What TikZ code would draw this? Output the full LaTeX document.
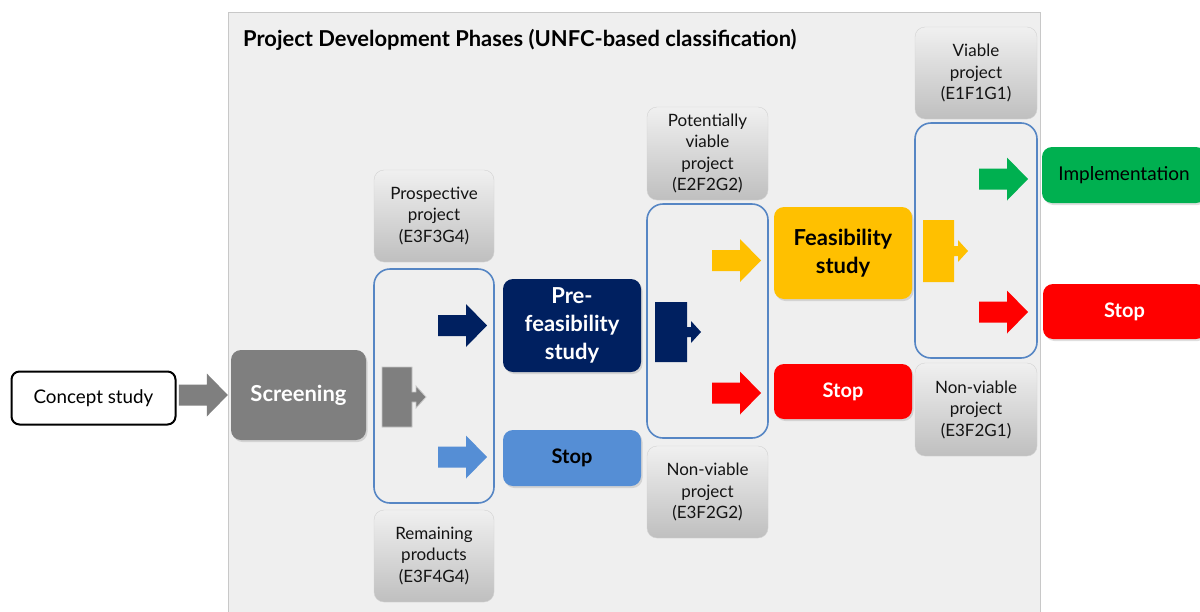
\documentclass[tikz,border=0pt]{standalone}
\usepackage{fontspec}
\setmainfont{Lato}
\usetikzlibrary{calc,shadows}
\definecolor{panelfill}{HTML}{EFEFEF}
\definecolor{panelline}{HTML}{C8C8C8}
\definecolor{outl}{HTML}{5686C4}
\definecolor{scr}{HTML}{7F7F7F}
\definecolor{navy}{HTML}{002060}
\definecolor{lblue}{HTML}{558ED5}
\definecolor{yel}{HTML}{FFC000}
\definecolor{rd}{HTML}{FF0000}
\definecolor{grn}{HTML}{00B050}
\definecolor{labtop}{HTML}{F0F0F0}
\definecolor{labbot}{HTML}{BFBFBF}
\newcommand\BArrow[2]{% #1 colour, #2 tip coordinate
  \fill[#1] let \p1=(#2) in
    (\x1-49pt,\y1-10.5pt) -- (\x1-21pt,\y1-10.5pt) -- (\x1-21pt,\y1-21.5pt) -- (\x1,\y1)
    -- (\x1-21pt,\y1+21.5pt) -- (\x1-21pt,\y1+10.5pt) -- (\x1-49pt,\y1+10.5pt) -- cycle;}
\newcommand\TBlock[6]{% colour, x1, y1, x2, y2, extra
  \fill[#1,#6] (#2,#3) -- (#4,#3) -- (#4,{(#3+#5)/2-5}) -- (#4+4,{(#3+#5)/2-5}) -- (#4+4,{(#3+#5)/2-11})
    -- (#4+14,{(#3+#5)/2}) -- (#4+4,{(#3+#5)/2+11}) -- (#4+4,{(#3+#5)/2+5}) -- (#4,{(#3+#5)/2+5})
    -- (#4,#5) -- (#2,#5) -- cycle;}
\tikzset{
  lab/.style={rounded corners=10pt, top color=labtop, bottom color=labbot, draw=gray!35,
    minimum width=120pt, minimum height=92pt, align=center, inner sep=0pt,
    font=\fontsize{17}{21.5}\selectfont, text=black!92},
  outbox/.style={draw=outl, line width=1.6pt, rounded corners=16pt, minimum width=120pt, minimum height=234pt},
  phase/.style={rounded corners=10pt, minimum width=138pt, align=center, inner sep=0pt,
    drop shadow={opacity=0.25, shadow xshift=1.5pt, shadow yshift=-2pt},
    font=\bfseries\fontsize{22}{27}\selectfont},
  stopfont/.style={font=\bfseries\fontsize{20}{24}\selectfont},
}
\begin{document}
\begin{tikzpicture}[x=1pt,y=-1pt]
\useasboundingbox (0,0) rectangle (1200,611);
\fill[white] (0,0) rectangle (1200,611);
% panel
\filldraw[fill=panelfill, draw=panelline, line width=1pt] (228,12) rectangle (1040,640);
\node[anchor=west, font=\bfseries\fontsize{21.9}{25}\selectfont, inner sep=0pt] (title) at (243,40)
  {Project Development Phases (UNFC-based classification)};
% concept
\node[draw=black, line width=2pt, rounded corners=8pt, fill=white, minimum width=164pt, minimum height=53pt,
  font=\fontsize{18.8}{22}\selectfont, inner sep=0pt] (concept) at (93.5,398) {Concept study};
\node[phase, fill=scr, text=white, minimum width=135pt, minimum height=90pt] (screen) at (298.5,395) {Screening};
% box 1
\node[lab] (prosp) at (434,216) {Prospective\\project\\(E3F3G4)};
\node[lab] (remain) at (434,556) {Remaining\\products\\(E3F4G4)};
\node[outbox] (box1) at (434,386) {};
\node[phase, fill=navy, text=white, minimum height=93pt, font=\bfseries\fontsize{22}{28}\selectfont] (prefeas) at (572,325.5) {Pre-\\feasibility\\study};
\node[phase, fill=lblue, text=black, minimum height=56pt, stopfont] (stop1) at (572,458) {Stop};
% box 2
\node[lab, minimum width=121pt, minimum height=93pt] (potv) at (707.5,153.5) {Potentially\\viable\\project\\(E2F2G2)};
\node[lab, minimum width=121pt] (nonv1) at (707.5,492) {Non-viable\\project\\(E3F2G2)};
\node[outbox, minimum width=121pt] (box2) at (707.5,321) {};
\node[phase, fill=yel, text=black, minimum height=92pt, font=\bfseries\fontsize{22}{28}\selectfont] (feas) at (843,253) {Feasibility\\study};
\node[phase, fill=rd, text=white, minimum height=55pt, stopfont] (stop2) at (843,391.5) {Stop};
% box 3
\node[lab, minimum width=122pt] (viab) at (976,73) {Viable\\project\\(E1F1G1)};
\node[lab, minimum width=122pt, minimum height=93pt] (nonv2) at (976,409.5) {Non-viable\\project\\(E3F2G1)};
\node[outbox, minimum width=122pt, minimum height=235pt] (box3) at (976,240.5) {};
\node[phase, fill=grn, text=black, minimum width=164pt, minimum height=56pt, font=\fontsize{19}{23}\selectfont] (impl) at (1124,175) {Implementation};
\node[phase, fill=rd, text=white, minimum width=163pt, minimum height=55pt, stopfont] (stop3) at (1124.5,311.5) {Stop};
% arrows
\coordinate (t0) at ([xshift=-3pt]screen.west);
\BArrow{scr}{t0}
\TBlock{scr}{382}{367}{412}{427}{draw=gray!45,line width=0.8pt}
\coordinate (t1) at (487,325.5);
\coordinate (t2) at (487,457);
\BArrow{navy}{t1}
\BArrow{lblue}{t2}
\TBlock{navy}{655}{302}{687}{362}{}
\coordinate (t3) at (761,260.5);
\coordinate (t4) at (761,393);
\BArrow{yel}{t3}
\BArrow{rd}{t4}
\TBlock{yel}{923}{220}{954}{282}{}
\coordinate (t5) at (1028,179);
\coordinate (t6) at (1028,312);
\BArrow{grn}{t5}
\BArrow{rd}{t6}
\end{tikzpicture}
\end{document}
